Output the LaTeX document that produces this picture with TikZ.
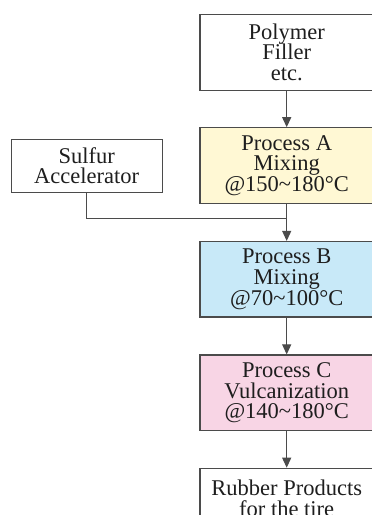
\documentclass[tikz,border=0pt]{standalone}
\usepackage{fontspec}
\setmainfont{Liberation Serif}
\usetikzlibrary{arrows.meta}
\definecolor{boxline}{RGB}{75,75,75}
\definecolor{txt}{RGB}{30,30,30}
\definecolor{fillA}{RGB}{255,248,212}
\definecolor{fillB}{RGB}{200,233,248}
\definecolor{fillC}{RGB}{248,213,229}
\tikzset{
  box/.style={draw=boxline, line width=1.1pt, minimum width=173.4pt, minimum height=75.5pt,
    align=center, inner sep=0pt, text=txt, font=\fontsize{22.5}{20.7}\selectfont},
  sidebox/.style={box, minimum width=151.3pt, minimum height=53pt},
  flow/.style={draw=boxline, line width=1.1pt, -{Triangle[length=10pt,width=9pt]}},
  link/.style={draw=boxline, line width=1.1pt}
}
\begin{document}
\begin{tikzpicture}[x=1pt,y=-1pt]
\useasboundingbox (0,0) rectangle (372,515);
\clip (0,0) rectangle (372,515);
\node[box] (poly) at (286.7,52.3) {Polymer\\Filler\\etc.};
\node[box, fill=fillA] (A) at (286.7,165.5) {Process A\\Mixing\\@150\textasciitilde180\textdegree C};
\node[sidebox] (S) at (86.7,165.8) {Sulfur\\Accelerator};
\node[box, fill=fillB] (B) at (286.7,279.2) {Process B\\Mixing\\@70\textasciitilde100\textdegree C};
\node[box, fill=fillC] (C) at (286.7,392.7) {Process C\\Vulcanization\\@140\textasciitilde180\textdegree C};
\node[box, text depth=15pt] (R) at (286.7,506) {Rubber Products\\for the tire};
\coordinate (J) at (286.7,218.7);
\draw[flow] (poly) -- (A);
\draw[flow] (A) -- (B);
\draw[link] (S.south) |- (J);
\draw[flow] (B) -- (C);
\draw[flow] (C) -- (R);
\end{tikzpicture}
\end{document}
